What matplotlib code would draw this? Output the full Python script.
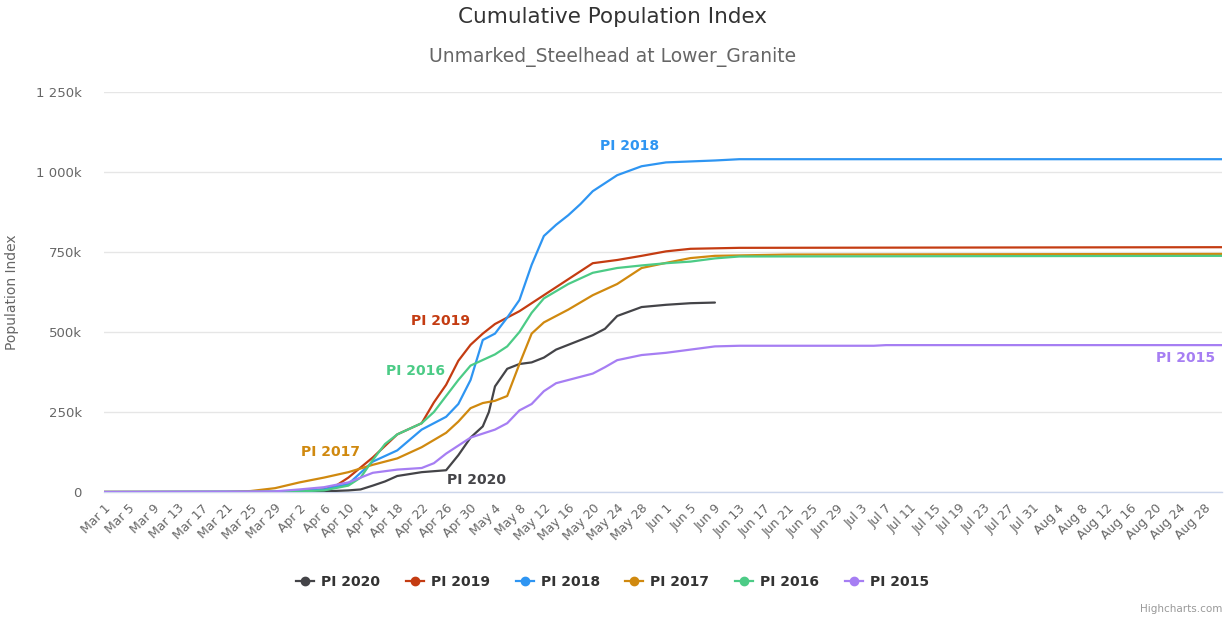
import matplotlib
matplotlib.use("Agg")
import matplotlib.pyplot as plt
from matplotlib.lines import Line2D
import pandas as pd

YEAR = 2019  # overlay year used for the month/day axis

# ---------------- data ----------------
pi2020_dates = ["Mar 1", "Apr 2", "Apr 6", "Apr 10", "Apr 12", "Apr 14", "Apr 16", "Apr 18",
                "Apr 22", "Apr 26", "Apr 28", "Apr 30", "May 2", "May 3", "May 4", "May 6",
                "May 8", "May 10", "May 12", "May 14", "May 16", "May 20", "May 22", "May 24",
                "May 28", "Jun 1", "Jun 5", "Jun 9"]
pi2020_vals = [0, 0, 2000, 5000, 8000, 20000, 33000, 50000,
               62000, 68000, 115000, 170000, 205000, 250000, 330000, 385000,
               400000, 405000, 420000, 445000, 460000, 490000, 510000, 550000,
               578000, 585000, 590000, 592000]

pi2019_dates = ["Mar 1", "Mar 29", "Apr 2", "Apr 6", "Apr 8", "Apr 10", "Apr 14", "Apr 18",
                "Apr 22", "Apr 24", "Apr 26", "Apr 28", "Apr 30", "May 2", "May 4", "May 8",
                "May 12", "May 16", "May 20", "May 24", "May 28", "Jun 1", "Jun 5", "Jun 13",
                "Aug 31"]
pi2019_vals = [0, 0, 3000, 8000, 20000, 45000, 108000, 180000,
               215000, 280000, 335000, 410000, 460000, 495000, 525000, 565000,
               615000, 665000, 715000, 725000, 738000, 752000, 760000, 763000,
               765000]

pi2018_dates = ["Mar 1", "Mar 29", "Apr 2", "Apr 6", "Apr 10", "Apr 14", "Apr 18", "Apr 22",
                "Apr 26", "Apr 28", "Apr 30", "May 2", "May 4", "May 6", "May 8", "May 10",
                "May 12", "May 14", "May 16", "May 18", "May 20", "May 22", "May 24", "May 28",
                "Jun 1", "Jun 9", "Jun 13", "Aug 31"]
pi2018_vals = [0, 0, 3000, 8000, 25000, 95000, 130000, 195000,
               235000, 275000, 350000, 475000, 495000, 545000, 600000, 710000,
               800000, 835000, 865000, 900000, 940000, 965000, 990000, 1018000,
               1030000, 1036000, 1040000, 1040000]

pi2017_dates = ["Mar 1", "Mar 21", "Mar 25", "Mar 29", "Apr 2", "Apr 6", "Apr 10", "Apr 14",
                "Apr 18", "Apr 22", "Apr 26", "Apr 28", "Apr 30", "May 2", "May 4", "May 6",
                "May 8", "May 10", "May 12", "May 16", "May 20", "May 24", "May 28", "Jun 1",
                "Jun 5", "Jun 9", "Jun 21", "Aug 31"]
pi2017_vals = [0, 0, 3000, 12000, 30000, 45000, 62000, 85000,
               105000, 140000, 185000, 220000, 262000, 278000, 285000, 300000,
               400000, 495000, 530000, 570000, 615000, 650000, 700000, 716000,
               731000, 738000, 742000, 744000]

pi2016_dates = ["Mar 1", "Apr 2", "Apr 6", "Apr 10", "Apr 12", "Apr 14", "Apr 16", "Apr 18",
                "Apr 22", "Apr 24", "Apr 26", "Apr 28", "Apr 30", "May 4", "May 6", "May 8",
                "May 10", "May 12", "May 16", "May 20", "May 24", "May 28", "Jun 1", "Jun 5",
                "Jun 9", "Jun 13", "Aug 31"]
pi2016_vals = [0, 2000, 5000, 20000, 45000, 100000, 150000, 180000,
               215000, 250000, 300000, 350000, 395000, 430000, 455000, 500000,
               560000, 605000, 650000, 685000, 700000, 708000, 715000, 720000,
               730000, 736000, 738000]

pi2015_dates = ["Mar 1", "Mar 29", "Apr 2", "Apr 6", "Apr 10", "Apr 14", "Apr 18", "Apr 22",
                "Apr 24", "Apr 26", "Apr 30", "May 4", "May 6", "May 8", "May 10", "May 12",
                "May 14", "May 16", "May 20", "May 22", "May 24", "May 28", "Jun 1", "Jun 5",
                "Jun 9", "Jun 13", "Jul 5", "Jul 7", "Aug 31"]
pi2015_vals = [0, 2000, 8000, 15000, 30000, 60000, 70000, 75000,
               90000, 120000, 170000, 195000, 215000, 255000, 275000, 315000,
               340000, 350000, 370000, 390000, 412000, 428000, 435000, 445000,
               455000, 457000, 457000, 459000, 459000]

series_names = ["PI 2020", "PI 2019", "PI 2018", "PI 2017", "PI 2016", "PI 2015"]
series_dates = [pi2020_dates, pi2019_dates, pi2018_dates, pi2017_dates, pi2016_dates, pi2015_dates]
series_vals = [pi2020_vals, pi2019_vals, pi2018_vals, pi2017_vals, pi2016_vals, pi2015_vals]

y_ticks = [0, 250000, 500000, 750000, 1000000, 1250000]
y_tick_labels = ["0", "250k", "500k", "750k", "1 000k", "1 250k"]

# ---------------- styling ----------------
colors = ["#444448", "#c43c12", "#2e95f2", "#d0890f", "#4ccb86", "#a67ef3"]
label_pos = {  # (date, value) anchor for the in-plot series labels
    "PI 2020": ("May 1", 38000),
    "PI 2019": ("Apr 25", 535000),
    "PI 2016": ("Apr 21", 378000),
    "PI 2017": ("Apr 7", 125000),
    "PI 2018": ("May 26", 1080000),
    "PI 2015": ("Aug 25", 420000),
}

plt.rcParams["font.family"] = ["DejaVu Sans"]


def to_date(s):
    return pd.to_datetime(f"{s} {YEAR}", format="%b %d %Y")


fig = plt.figure(figsize=(12.25, 6.17), dpi=100)
ax = fig.add_axes([104 / 1225, (617 - 492) / 617, (1222 - 104) / 1225, 400 / 617])

for name, d, v, c in zip(series_names, series_dates, series_vals, colors):
    ax.plot([to_date(x) for x in d], v, color=c, lw=1.6, solid_capstyle="round", zorder=3)

for name, c in zip(series_names, colors):
    dt, val = label_pos[name]
    ax.text(to_date(dt), val, name, color=c, fontsize=10, fontweight="bold",
            ha="center", va="center", zorder=4)

ax.set_xlim(to_date("Mar 1"), to_date("Aug 31"))
ax.set_ylim(0, 1250000)

ax.set_yticks(y_ticks)
ax.set_yticklabels(y_tick_labels)
ax.tick_params(axis="y", length=0, pad=16, labelsize=9.5, labelcolor="#666666")
ax.yaxis.grid(True, color="#e6e6e6", lw=1)
ax.set_axisbelow(True)

xt = pd.date_range(to_date("Mar 1"), to_date("Aug 28"), freq="4D")
ax.set_xticks(xt)
ax.set_xticklabels([f"{t.strftime('%b')} {t.day}" for t in xt], rotation=45,
                   ha="right", rotation_mode="anchor")
ax.tick_params(axis="x", length=0, pad=7, labelsize=9, labelcolor="#666666")

for s in ["top", "right", "left"]:
    ax.spines[s].set_visible(False)
ax.spines["bottom"].set_color("#ccd6eb")
ax.spines["bottom"].set_linewidth(1)

ax.set_ylabel("Population Index", color="#666666", fontsize=10, labelpad=12)

fig.text(0.5, 1 - 17 / 617, "Cumulative Population Index", ha="center", va="center",
         fontsize=15.5, color="#333333")
fig.text(0.5, 1 - 57 / 617, "Unmarked_Steelhead at Lower_Granite", ha="center", va="center",
         fontsize=13.5, color="#666666")

handles = [Line2D([0], [0], color=c, lw=1.6, marker="o", markersize=6,
                  markerfacecolor=c, markeredgecolor=c) for c in colors]
leg = fig.legend(handles, series_names, loc="center", bbox_to_anchor=(0.5, 1 - 582 / 617),
                 ncol=6, frameon=False, handlelength=1.3, handletextpad=0.5,
                 columnspacing=1.85, prop={"weight": "bold", "size": 10})
for t in leg.get_texts():
    t.set_color("#333333")

fig.text(1 - 3 / 1225, 1 - 609 / 617, "Highcharts.com", ha="right", va="center",
         fontsize=7.5, color="#999999")

fig.savefig("out.png", dpi=100, facecolor="white")
